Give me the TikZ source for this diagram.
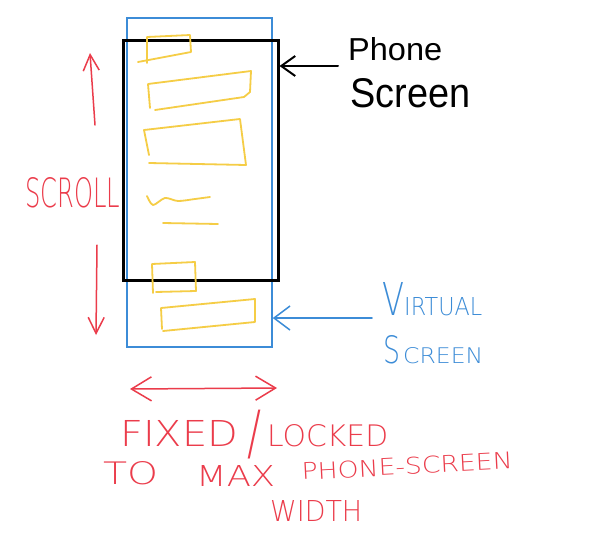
\documentclass[tikz,border=0pt]{standalone}
\usepackage{fontspec}
\usepackage{graphicx}
\setmainfont{Liberation Sans}
\newfontfamily\thinfont{DejaVu Sans ExtraLight}
\usetikzlibrary{arrows.meta}
\definecolor{penblue}{RGB}{60,140,215}
\definecolor{penred}{RGB}{235,60,75}
\definecolor{penyellow}{RGB}{245,205,70}
\tikzset{
  yel/.style={penyellow, line width=1.8pt, line join=round, line cap=round},
  redpen/.style={penred, line width=1.5pt, line cap=round},
  lbl/.style={inner sep=0pt, anchor=base west},
  thinlbl/.style={lbl, font=\thinfont},
  blackbarb/.style={-{Straight Barb[length=14pt,width=20pt,line width=2pt]}},
  bluebarb/.style={-{Straight Barb[length=16pt,width=24pt,line width=1.5pt]}},
  redbarb/.style={-{Straight Barb[length=16pt,width=16pt,line width=1.5pt]}},
  redbarbw/.style={{Straight Barb[length=20pt,width=24pt,line width=1.5pt]}-{Straight Barb[length=20pt,width=24pt,line width=1.5pt]}}
}
\begin{document}
\begin{tikzpicture}[x=1pt,y=-1pt]
\useasboundingbox[fill=white] (0,0) rectangle (591,557);
% virtual screen
\node[draw=penblue, line width=1.5pt, minimum width=145pt, minimum height=329pt, inner sep=0pt] (virt) at (199.5,182.5) {};
% phone screen
\node[draw=black, line width=3pt, minimum width=155pt, minimum height=240pt, inner sep=0pt] (phone) at (200.5,160) {};
% yellow content
\draw[yel] (147,63) -- (147,37) -- (190,35) -- (191,52) -- (138,62);
\draw[yel] (150,108) -- (148,84) -- (251,71) -- (250,92) -- (244,97) -- (155,110);
\draw[yel] (149,155) -- (144,130) -- (240,119) -- (246,165) -- (149,163);
\draw[yel] plot[smooth] coordinates {(147,196) (153,205) (165,198) (178,201) (195,199) (210,197)};
\draw[yel] (163,223) -- (218,224);
\draw[yel] (153,293) -- (152,264) -- (195,262) -- (196,291) -- (156,292);
\draw[yel] (162,329) -- (161,308) -- (255,299) -- (255,322) -- (163,331);
% phone screen label
\node[lbl, black] (phonetxt) at (348,60) {\resizebox{94pt}{23pt}{Phone}};
\node[lbl, black] (screentxt) at (350,107) {\resizebox{120pt}{29pt}{Screen}};
\coordinate (pa) at (338,66);
\draw[black, line width=2pt, line cap=round, blackbarb] (pa) -- (pa -| phone.east);
% virtual screen label
\node[thinlbl, penblue] (virttxt) at (382,315) {\resizebox{22pt}{33pt}{V}\resizebox{78pt}{18pt}{IRTUAL}};
\node[thinlbl, penblue] (vscreentxt) at (383,363) {\resizebox{17pt}{28pt}{S}\hspace{3pt}\resizebox{80pt}{16pt}{CREEN}};
\coordinate (va) at (372,318);
\draw[penblue, line width=1.5pt, line cap=round, bluebarb] (va) -- (va -| virt.east);
% scroll
\node[thinlbl, penred] (scrolltxt) at (25,207) {\resizebox{95pt}{30pt}{SCROLL}};
\coordinate (su0) at (95,125);
\coordinate (su1) at (90,53);
\coordinate (sd0) at (97,245);
\coordinate (sd1) at (96,335);
\draw[redpen, redbarb] (su0) -- (su1);
\draw[redpen, redbarb] (sd0) -- (sd1);
% width arrow
\coordinate (wl) at (130,389);
\coordinate (wr) at (277,388);
\draw[redpen, redbarbw] (wl) -- (wr);
% bottom text
\node[thinlbl, penred] (fixedtxt) at (120,446) {\resizebox{118pt}{26pt}{FIXED}\hspace{9pt}\raisebox{-7.4pt}{\resizebox{14pt}{43.4pt}{/}}\hspace{6pt}\resizebox{121pt}{22pt}{LOCKED}};
\node[thinlbl, penred] (totxt) at (103,484) {\resizebox{55pt}{23pt}{TO}};
\node[thinlbl, penred] (maxtxt) at (196,486) {\resizebox{79pt}{21pt}{MAX}};
\node[thinlbl, penred, rotate=3] (pstxt) at (302,480) {\resizebox{211pt}{17pt}{PHONE-SCREEN}};
\node[thinlbl, penred] (widthtxt) at (270,521) {\resizebox{92pt}{21pt}{WIDTH}};
\end{tikzpicture}
\end{document}
